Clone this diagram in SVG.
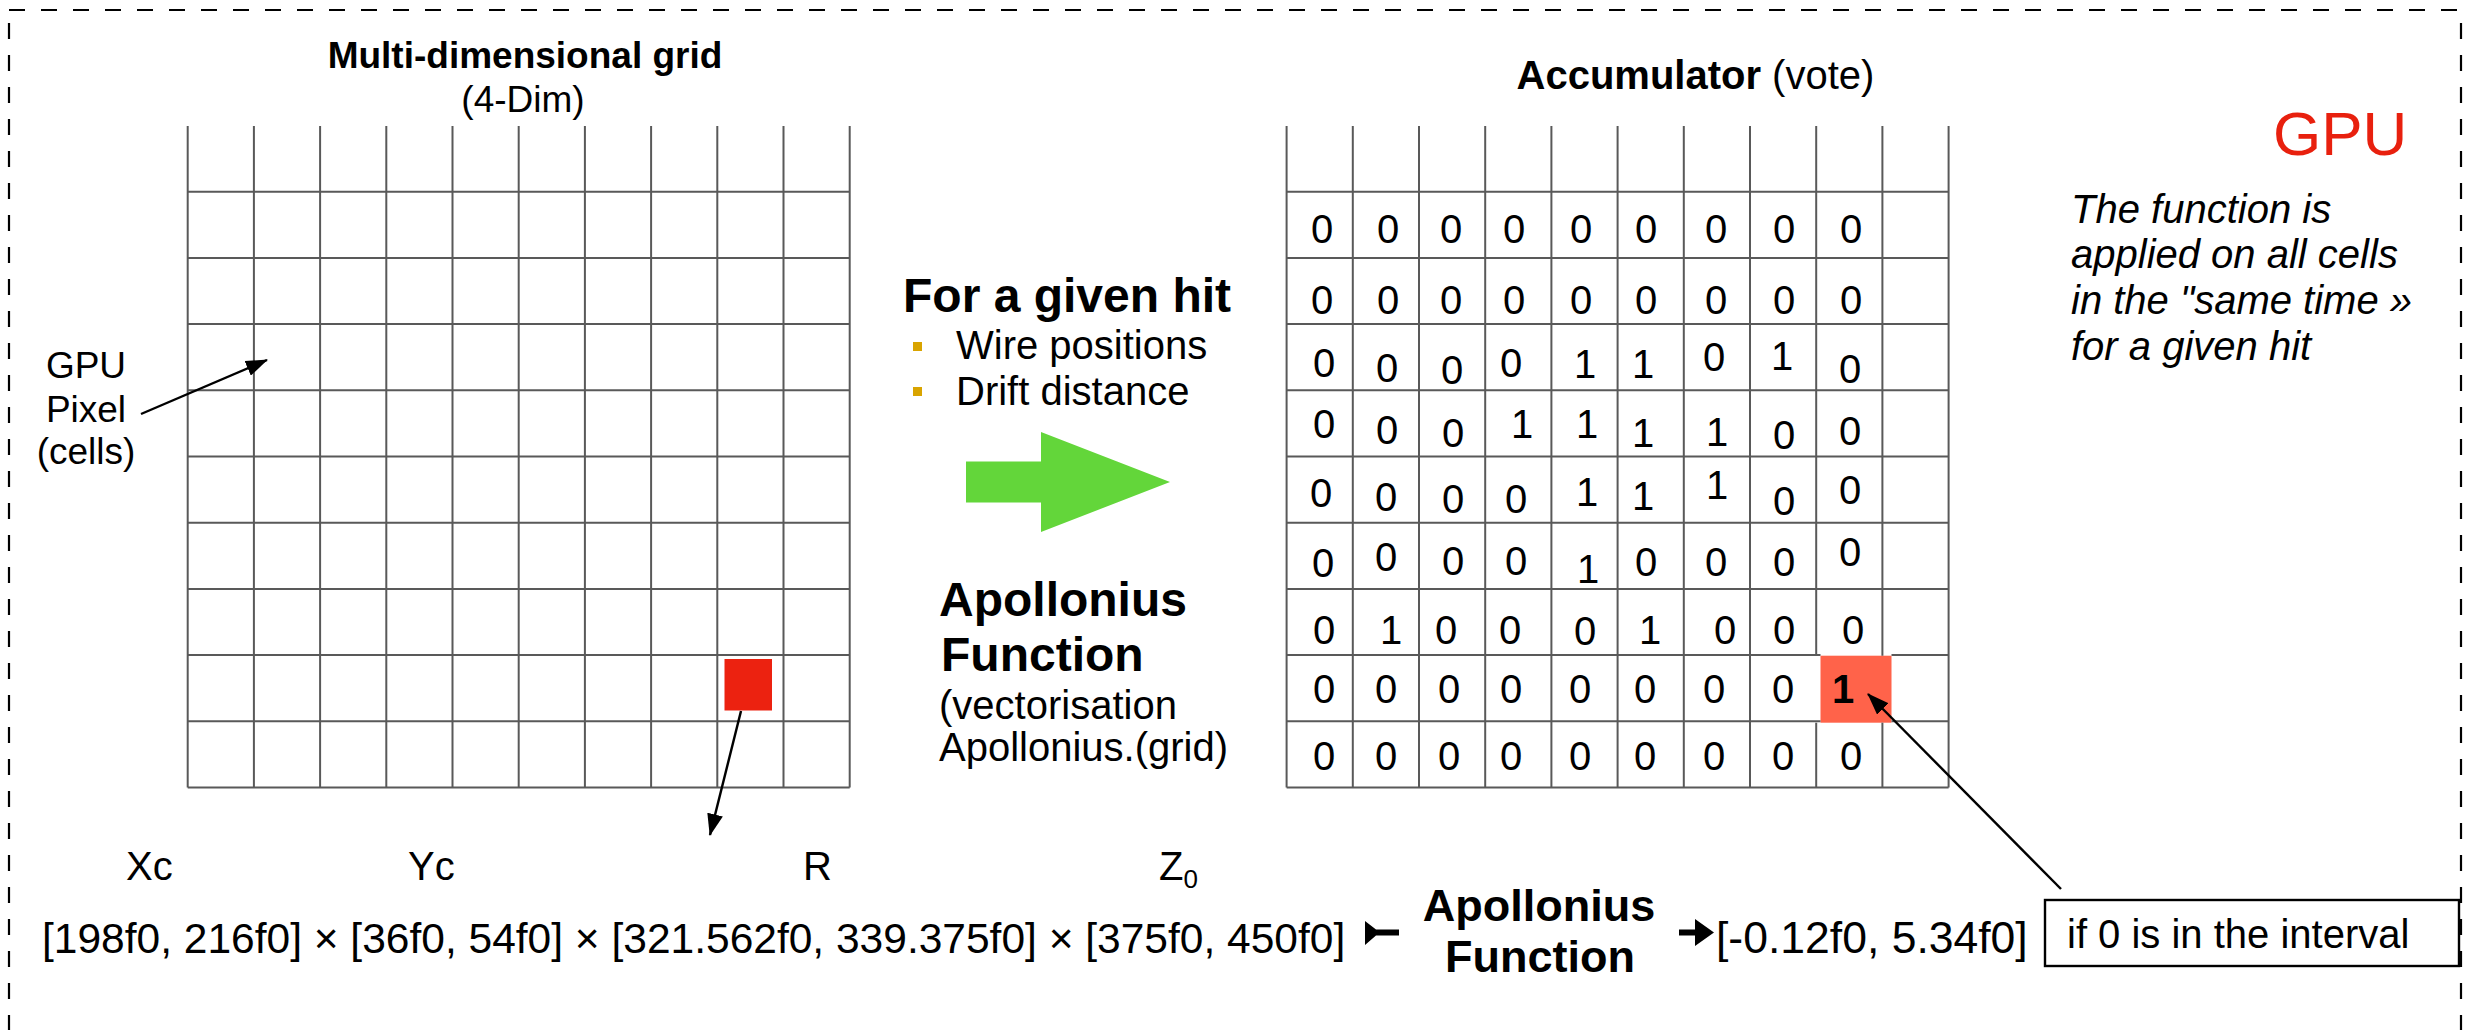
<svg xmlns="http://www.w3.org/2000/svg" width="2476" height="1030" viewBox="0 0 2476 1030">
  <style>
    text { font-family: "Liberation Sans", Arial, sans-serif; fill: #000; }
    .b { font-weight: bold; }
    .f40 { font-size: 40px; }
    .f37 { font-size: 37px; }
    .f48 { font-size: 48px; font-weight: bold; }
    .it { font-style: italic; font-size: 40px; }
    .num { font-size: 40px; text-anchor: middle; }
    .grid line { stroke: #595959; stroke-width: 2; }
    .border { stroke: #000; stroke-width: 2.2; stroke-dasharray: 16 16; fill: none; }
    .conn { stroke: #000; stroke-width: 2.4; fill: none; }
  </style>
  <defs>
    <marker id="head" markerUnits="userSpaceOnUse" markerWidth="22" markerHeight="16" viewBox="0 0 22 16" refX="21" refY="8" orient="auto">
      <path d="M0,0 L22,8 L0,16 Z" fill="#000"/>
    </marker>
  </defs>

  <rect width="2476" height="1030" fill="#fff"/>

  <!-- dashed frame (open at the bottom) -->
  <g id="frame">
    <line class="border" x1="9" y1="10" x2="2461" y2="10"/>
    <line class="border" x1="9" y1="23" x2="9" y2="1030"/>
    <line class="border" x1="2461" y1="23" x2="2461" y2="1030"/>
  </g>

  <!-- left: multi-dimensional grid -->
  <g id="grid-4d">
    <text class="b f37" x="525" y="68" text-anchor="middle">Multi-dimensional grid</text>
    <text class="f37" x="523" y="112" text-anchor="middle">(4-Dim)</text>
    <g class="grid">
      <line x1="187.7" y1="126" x2="187.7" y2="787.5"/>
      <line x1="253.9" y1="126" x2="253.9" y2="787.5"/>
      <line x1="320.1" y1="126" x2="320.1" y2="787.5"/>
      <line x1="386.3" y1="126" x2="386.3" y2="787.5"/>
      <line x1="452.5" y1="126" x2="452.5" y2="787.5"/>
      <line x1="518.7" y1="126" x2="518.7" y2="787.5"/>
      <line x1="584.9" y1="126" x2="584.9" y2="787.5"/>
      <line x1="651.1" y1="126" x2="651.1" y2="787.5"/>
      <line x1="717.3" y1="126" x2="717.3" y2="787.5"/>
      <line x1="783.5" y1="126" x2="783.5" y2="787.5"/>
      <line x1="849.7" y1="126" x2="849.7" y2="787.5"/>
      <line x1="187.7" y1="191.7" x2="849.7" y2="191.7"/>
      <line x1="187.7" y1="257.9" x2="849.7" y2="257.9"/>
      <line x1="187.7" y1="324.1" x2="849.7" y2="324.1"/>
      <line x1="187.7" y1="390.3" x2="849.7" y2="390.3"/>
      <line x1="187.7" y1="456.5" x2="849.7" y2="456.5"/>
      <line x1="187.7" y1="522.7" x2="849.7" y2="522.7"/>
      <line x1="187.7" y1="588.9" x2="849.7" y2="588.9"/>
      <line x1="187.7" y1="655.1" x2="849.7" y2="655.1"/>
      <line x1="187.7" y1="721.3" x2="849.7" y2="721.3"/>
      <line x1="187.7" y1="787.5" x2="849.7" y2="787.5"/>
    </g>
    <rect id="hit-cell" x="724.5" y="659" width="47.5" height="51.5" fill="#EC2210"/>
  </g>

  <!-- pixel label -->
  <g id="pixel-label">
    <text class="f37" x="86" y="378" text-anchor="middle">GPU</text>
    <text class="f37" x="86" y="422" text-anchor="middle">Pixel</text>
    <text class="f37" x="86" y="464" text-anchor="middle">(cells)</text>
  </g>

  <!-- middle: hit description and transform -->
  <g id="transform">
    <text class="f48" x="903" y="312">For a given hit</text>
    <rect x="913" y="342" width="9" height="9" fill="#D9A400"/>
    <rect x="913" y="387" width="9" height="9" fill="#D9A400"/>
    <text class="f40" x="956" y="359">Wire positions</text>
    <text class="f40" x="956" y="405">Drift distance</text>
    <polygon points="966,461.5 1041,461.5 1041,432 1170,482 1041,532 1041,502.5 966,502.5" fill="#63D63A"/>
    <text class="f48" x="939" y="616">Apollonius</text>
    <text class="f48" x="941" y="671">Function</text>
    <text class="f40" x="939" y="719">(vectorisation</text>
    <text class="f40" x="939" y="761">Apollonius.(grid)</text>
  </g>

  <!-- right: accumulator -->
  <g id="accumulator">
    <text x="1516.5" y="89" class="f40"><tspan class="b">Accumulator</tspan> (vote)</text>
    <rect id="vote-cell" x="1820.5" y="655.7" width="71" height="67" fill="#FF634A"/>
    <g class="grid">
      <line x1="1286.6" y1="126" x2="1286.6" y2="787.5"/>
      <line x1="1352.8" y1="126" x2="1352.8" y2="787.5"/>
      <line x1="1419" y1="126" x2="1419" y2="787.5"/>
      <line x1="1485.2" y1="126" x2="1485.2" y2="787.5"/>
      <line x1="1551.4" y1="126" x2="1551.4" y2="787.5"/>
      <line x1="1617.6" y1="126" x2="1617.6" y2="787.5"/>
      <line x1="1683.8" y1="126" x2="1683.8" y2="787.5"/>
      <line x1="1750" y1="126" x2="1750" y2="787.5"/>
      <line x1="1816.2" y1="126" x2="1816.2" y2="655.7"/>
      <line x1="1816.2" y1="722.7" x2="1816.2" y2="787.5"/>
      <line x1="1882.4" y1="126" x2="1882.4" y2="655.7"/>
      <line x1="1882.4" y1="722.7" x2="1882.4" y2="787.5"/>
      <line x1="1948.6" y1="126" x2="1948.6" y2="787.5"/>
      <line x1="1286.6" y1="191.7" x2="1948.6" y2="191.7"/>
      <line x1="1286.6" y1="257.9" x2="1948.6" y2="257.9"/>
      <line x1="1286.6" y1="324.1" x2="1948.6" y2="324.1"/>
      <line x1="1286.6" y1="390.3" x2="1948.6" y2="390.3"/>
      <line x1="1286.6" y1="456.5" x2="1948.6" y2="456.5"/>
      <line x1="1286.6" y1="522.7" x2="1948.6" y2="522.7"/>
      <line x1="1286.6" y1="588.9" x2="1948.6" y2="588.9"/>
      <line x1="1286.6" y1="655.1" x2="1820.5" y2="655.1"/>
      <line x1="1891.5" y1="655.1" x2="1948.6" y2="655.1"/>
      <line x1="1286.6" y1="721.3" x2="1820.5" y2="721.3"/>
      <line x1="1891.5" y1="721.3" x2="1948.6" y2="721.3"/>
      <line x1="1286.6" y1="787.5" x2="1948.6" y2="787.5"/>
    </g>
    <g id="votes">
      <!-- row 1 -->
      <text class="num" x="1322" y="242.5">0</text><text class="num" x="1388" y="242.5">0</text><text class="num" x="1451" y="242.5">0</text>
      <text class="num" x="1514" y="242.5">0</text><text class="num" x="1581" y="242.5">0</text><text class="num" x="1646" y="242.5">0</text>
      <text class="num" x="1716" y="242.5">0</text><text class="num" x="1784" y="242.5">0</text><text class="num" x="1851" y="242.5">0</text>
      <!-- row 2 -->
      <text class="num" x="1322" y="313.5">0</text><text class="num" x="1388" y="313.5">0</text><text class="num" x="1451" y="313.5">0</text>
      <text class="num" x="1514" y="313.5">0</text><text class="num" x="1581" y="313.5">0</text><text class="num" x="1646" y="313.5">0</text>
      <text class="num" x="1716" y="313.5">0</text><text class="num" x="1784" y="313.5">0</text><text class="num" x="1851" y="313.5">0</text>
      <!-- row 3 -->
      <text class="num" x="1324" y="377">0</text><text class="num" x="1387" y="382">0</text><text class="num" x="1452" y="384">0</text>
      <text class="num" x="1511" y="377">0</text><text class="num" x="1585" y="378">1</text><text class="num" x="1643" y="378">1</text>
      <text class="num" x="1714" y="371">0</text><text class="num" x="1782" y="370">1</text><text class="num" x="1850" y="383">0</text>
      <!-- row 4 -->
      <text class="num" x="1324" y="438">0</text><text class="num" x="1387" y="444">0</text><text class="num" x="1453" y="447">0</text>
      <text class="num" x="1522" y="438">1</text><text class="num" x="1587" y="438">1</text><text class="num" x="1643" y="447">1</text>
      <text class="num" x="1717" y="446">1</text><text class="num" x="1784" y="449">0</text><text class="num" x="1850" y="445">0</text>
      <!-- row 5 -->
      <text class="num" x="1321" y="507">0</text><text class="num" x="1386" y="511">0</text><text class="num" x="1453" y="513">0</text>
      <text class="num" x="1516" y="513">0</text><text class="num" x="1587" y="506">1</text><text class="num" x="1643" y="510">1</text>
      <text class="num" x="1717" y="499">1</text><text class="num" x="1784" y="515">0</text><text class="num" x="1850" y="504">0</text>
      <!-- row 6 -->
      <text class="num" x="1323" y="577">0</text><text class="num" x="1386" y="571">0</text><text class="num" x="1453" y="575">0</text>
      <text class="num" x="1516" y="575">0</text><text class="num" x="1588" y="583">1</text><text class="num" x="1646" y="576">0</text>
      <text class="num" x="1716" y="576">0</text><text class="num" x="1784" y="576">0</text><text class="num" x="1850" y="566">0</text>
      <!-- row 7 -->
      <text class="num" x="1324" y="644">0</text><text class="num" x="1391" y="644">1</text><text class="num" x="1446" y="644">0</text>
      <text class="num" x="1510" y="644">0</text><text class="num" x="1585" y="645">0</text><text class="num" x="1650" y="644">1</text>
      <text class="num" x="1725" y="644">0</text><text class="num" x="1784" y="644">0</text><text class="num" x="1853" y="644">0</text>
      <!-- row 8 -->
      <text class="num" x="1324" y="703">0</text><text class="num" x="1386" y="703">0</text><text class="num" x="1449" y="703">0</text>
      <text class="num" x="1511" y="703">0</text><text class="num" x="1580" y="703">0</text><text class="num" x="1645" y="703">0</text>
      <text class="num" x="1714" y="703">0</text><text class="num" x="1783" y="703">0</text><text class="num b" x="1843" y="703">1</text>
      <!-- row 9 -->
      <text class="num" x="1324" y="770">0</text><text class="num" x="1386" y="770">0</text><text class="num" x="1449" y="770">0</text>
      <text class="num" x="1511" y="770">0</text><text class="num" x="1580" y="770">0</text><text class="num" x="1645" y="770">0</text>
      <text class="num" x="1714" y="770">0</text><text class="num" x="1783" y="770">0</text><text class="num" x="1851" y="770">0</text>
    </g>
  </g>

  <!-- GPU note -->
  <g id="gpu-note">
    <text x="2273" y="155" font-size="62" style="fill:#E8200E">GPU</text>
    <text class="it" x="2071" y="223">The function is</text>
    <text class="it" x="2071" y="268">applied on all cells</text>
    <text class="it" x="2071" y="314">in the "same time »</text>
    <text class="it" x="2071" y="360">for a given hit</text>
  </g>

  <!-- interval formula -->
  <g id="formula">
    <text class="f40" x="126" y="880">Xc</text>
    <text class="f40" x="408" y="880">Yc</text>
    <text class="f40" x="803" y="880">R</text>
    <text class="f40" x="1159" y="880">Z<tspan font-size="26" dy="8">0</tspan></text>
    <text x="42" y="953" font-size="42.5">[198f0, 216f0] × [36f0, 54f0] × [321.562f0, 339.375f0] × [375f0, 450f0]</text>
    <text class="b" x="1539" y="921" font-size="45" text-anchor="middle">Apollonius</text>
    <text class="b" x="1540" y="972" font-size="45" text-anchor="middle">Function</text>
    <text x="1716" y="953" font-size="44.5">[-0.12f0, 5.34f0]</text>
  </g>

  <!-- condition box -->
  <g id="condition">
    <rect x="2045" y="900" width="414" height="66" fill="#fff" stroke="#000" stroke-width="2.4"/>
    <text class="f40" x="2067" y="948">if 0 is in the interval</text>
  </g>

  <!-- connectors -->
  <g id="connectors">
    <line class="conn" x1="141" y1="414" x2="267" y2="360" marker-end="url(#head)"/>
    <line class="conn" x1="741" y1="711" x2="710" y2="835" marker-end="url(#head)"/>
    <line class="conn" x1="2061" y1="889" x2="1868" y2="694" marker-end="url(#head)"/>
    <!-- maps-to arrow split around the function name -->
    <path d="M1365,921 L1365,945 L1376,935.5 L1399,935.5 L1399,929.5 L1376,929.5 Z" fill="#000"/>
    <path d="M1679,929.5 L1695,929.5 L1695,919 L1714,932.5 L1695,946 L1695,935.5 L1679,935.5 Z" fill="#000"/>
  </g>
</svg>
